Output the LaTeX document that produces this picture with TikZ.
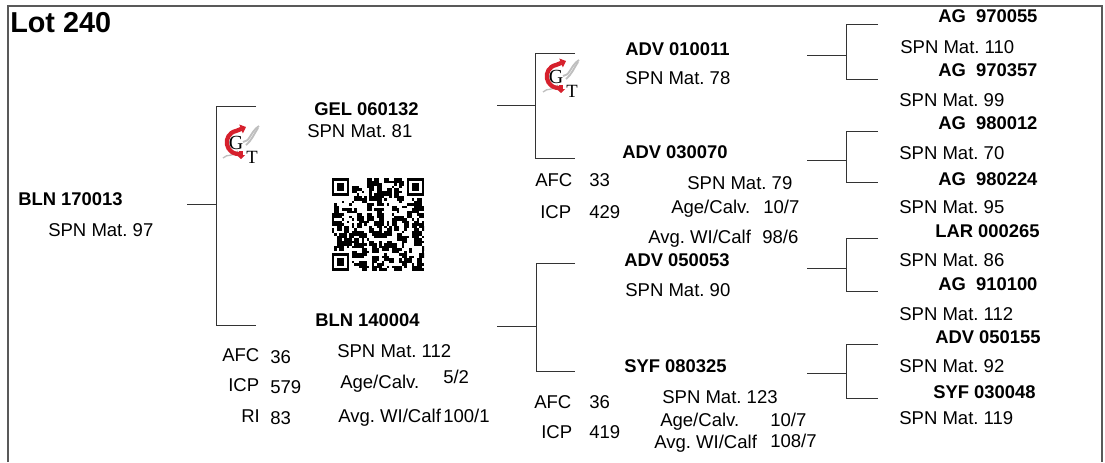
\documentclass[tikz,border=0pt]{standalone}
\usepackage{fontspec}
\setmainfont{Liberation Sans}
\newfontfamily\logofont{Liberation Serif}
\usetikzlibrary{calc,arrows.meta}
\definecolor{logored}{RGB}{214,32,44}

\begin{document}
\begin{tikzpicture}[
  x=.75pt,y=-.75pt,
  branch/.style={line width=.7pt,color=black!80},
  frameline/.style={line width=1.1pt,color=black!65},
  plainlabel/.style={anchor=base west,inner sep=0pt,font=\fontsize{13.9}{16}\selectfont\frenchspacing},
  boldlabel/.style={plainlabel,font=\fontsize{13.8}{16}\selectfont\bfseries},
  ]
  \useasboundingbox (0,0) rectangle (1105,462);

  \coordinate (frametl) at (8,6);
  \coordinate (framebl) at (8,462);
  \coordinate (frametr) at (1102,6);
  \coordinate (framebr) at (1102,462);
  \draw[frameline] (framebl) -- (frametl) -- (frametr) -- (framebr);

  \node[boldlabel,font=\fontsize{21.6}{24}\selectfont\bfseries] (lot) at (10,32) {Lot 240};

  % pedigree brackets
  \foreach \n/\xin/\xmid/\xend/\ym/\yup/\ylow in {
    sire/187/216/256/204/106/325,
    gel/497/535/575/105/53/158,
    bln/497/536/575/326/263/371,
    adva/807/846/878/55/24/79,
    advb/807/846/878/160/131/182,
    advc/807/846/878/268/238/291,
    syf/807/846/878/373/344/398}
  {
    \coordinate (in\n) at (\xin,\ym);
    \coordinate (mid\n) at (\xmid,\ym);
    \coordinate (up\n) at (\xmid,\yup);
    \coordinate (low\n) at (\xmid,\ylow);
    \coordinate (upend\n) at (\xend,\yup);
    \coordinate (lowend\n) at (\xend,\ylow);
    \draw[branch] (in\n) -- (mid\n);
    \draw[branch] (upend\n) -- (up\n) -- (low\n) -- (lowend\n);
  }

  % animal numbers
  \foreach \n/\x/\y/\t in {
    bln170013/18/205/BLN 170013,
    gel060132/314/115/GEL 060132,
    bln140004/315/326/BLN 140004,
    adv010011/625/55/ADV 010011,
    adv030070/622/158/ADV 030070,
    adv050053/624/266/ADV 050053,
    syf080325/624/372/SYF 080325,
    ag970055/938/22/AG\ \ 970055,
    ag970357/938/76/AG\ \ 970357,
    ag980012/938/129/AG\ \ 980012,
    ag980224/938/185/AG\ \ 980224,
    lar000265/935/237/LAR 000265,
    ag910100/938/290/AG\ \ 910100,
    adv050155/935/343/ADV 050155,
    syf030048/933/398/SYF 030048}
  {
    \node[boldlabel] (\n) at (\x,\y) {\t};
  }

  % maturity lines
  \foreach \n/\x/\y/\t in {
    a/48/236/97, b/307/137/81, c/337/357/112, d/625/84/78,
    e/687/189/79, f/625/296/90, g/662/403/123,
    h/900/53/110, i/899/106/99, j/899/159/70, k/899/213/95,
    l/899/266/86, m/899/320/112, o/899/372/92, p/899/424/119}
  {
    \node[plainlabel] (spn\n) at (\x,\y) {SPN Mat. \t};
  }

  % herd figures
  \foreach \n/\x/\y/\t in {
    afca/222/361/AFC, afcaval/270/363/36,
    icpa/228/391/ICP, icpaval/270/393/579,
    ria/241/422/RI, riaval/270/424/83,
    ageaval/443/383/{5/2}, avgaval/443/422/{100/1},
    afcb/535/186/AFC, afcbval/589/186/33,
    icpb/540/218/ICP, icpbval/589/218/429,
    agebval/763/213/{10/7}, avgbval/762/243/{98/6},
    afcc/534/408/AFC, afccval/589/408/36,
    icpc/541/438/ICP, icpcval/589/438/419,
    agecval/770/426/{10/7}, avgcval/770/447/{108/7}}
  {
    \node[plainlabel] (\n) at (\x,\y) {\t};
  }
  \node[plainlabel] (agea) at (340,388) {Age/Calv.};
  \node[plainlabel] (avga) at (338,422) {Avg. WI/Calf};
  \node[plainlabel] (ageb) at (671,213) {Age/Calv.};
  \node[plainlabel] (avgb) at (648,243) {Avg. WI/Calf};
  \node[plainlabel] (agec) at (660,426) {Age/Calv.};
  \node[plainlabel] (avgc) at (654,448) {Avg. WI/Calf};

  % logos
  \foreach \n/\dx/\dy in {one/0/0,two/320/-66}
  {
  \begin{scope}[shift={(\dx,\dy)}]
    \draw[black!25,line width=1.4pt] (243,142) .. controls (250,142) and (250,132) .. (259,126);
    \draw[black!25,line width=1.4pt] (246,145) .. controls (252,140) and (254,134) .. (258,128);
    \draw[black!25,line width=1pt] (223,158) .. controls (228,153) and (232,158) .. (238,151);
    \draw[logored,line width=3.2pt,-{Triangle[length=4pt,width=7pt]}]
      (242,154) .. controls (224,156) and (222,134) .. (236,131) -- (246,127);
    \draw[logored,line width=2.4pt,-{Triangle[length=3pt,width=6pt]}] (241,151) -- (241,159);
    \node[inner sep=0pt,font=\logofont\fontsize{15}{15}\selectfont] (g\n) at (236,143) {G};
    \node[inner sep=0pt,font=\logofont\fontsize{14}{14}\selectfont] (t\n) at (252,157) {T};
  \end{scope}
  }

  % square code
  \pgfmathsetseed{240}
  \begin{scope}
  \clip (331.5,178) rectangle ++(92.6,92.6);
  \foreach \r in {0,...,36}
  {
  \foreach \c in {0,...,36}
  {
    \pgfmathsetmacro{\inmark}{(\r<8 && \c<8) || (\r<8 && \c>27) || (\r>28 && \c<8) ? 1 : 0}
    \pgfmathsetmacro{\pick}{rnd}
    \ifdim\inmark pt<.5pt
      \ifdim\pick pt>.88pt
        \fill ($(331.5,178)+(2.5*\c,2.5*\r)$) rectangle ++(5,5);
      \fi
      \ifdim\pick pt<.18pt
        \fill ($(331.5,178)+(2.5*\c,2.5*\r)$) rectangle ++(2.6,2.6);
      \fi
    \fi
  }
  }
  \end{scope}
  \foreach \r/\c in {0/0,0/30,30/0}
  {
    \fill ($(331.5,178)+(2.5*\c,2.5*\r)$) rectangle ++(17.5,17.5);
    \fill[white] ($(331.5,178)+(2.5*\c,2.5*\r)+(2.5,2.5)$) rectangle ++(12.5,12.5);
    \fill ($(331.5,178)+(2.5*\c,2.5*\r)+(5,5)$) rectangle ++(7.5,7.5);
  }
\end{tikzpicture}
\end{document}
